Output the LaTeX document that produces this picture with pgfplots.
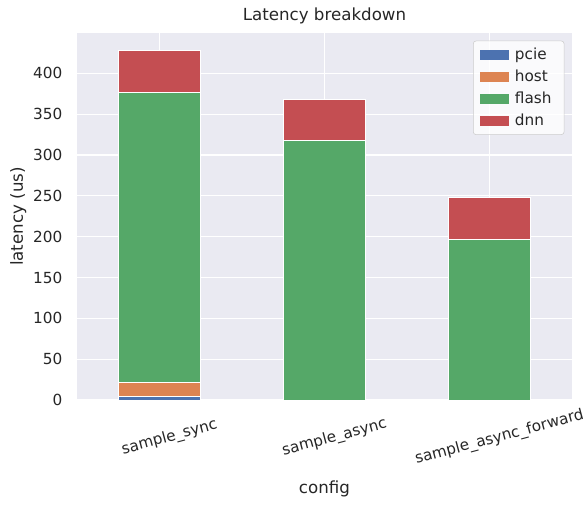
\documentclass[border=0pt]{standalone}
\usepackage{fontspec}
\setmainfont{DejaVu Sans}
\usepackage{pgfplots}
\pgfplotsset{compat=1.18}
\definecolor{bgc}{HTML}{EAEAF2}
\definecolor{c1}{HTML}{4C72B0}
\definecolor{c2}{HTML}{DD8452}
\definecolor{c3}{HTML}{55A868}
\definecolor{c4}{HTML}{C44E52}
\definecolor{txt}{HTML}{262626}
\begin{document}
\begin{tikzpicture}
\path[use as bounding box] (-55.44pt,-78.48pt) rectangle (365.76pt,288pt);
\begin{axis}[
  at={(0,0)}, anchor=south west,
  scale only axis, width=356.4pt, height=264.2pt,
  xmin=-0.5, xmax=2.5, ymin=0, ymax=449.4,
  enlargelimits=false,
  ybar stacked, bar width=0.5,
  axis background/.style={fill=bgc},
  axis line style={draw=none},
  major tick length=0pt,
  grid=major, major grid style={white, line width=0.9pt},
  xtick={0,1,2}, xticklabels={sample\_sync,sample\_async,sample\_async\_forward},
  ytick={0,50,100,150,200,250,300,350,400},
  tick label style={font=\fontsize{11}{13}\selectfont, text=txt},
  /pgf/number format/assume math mode=true,
  xticklabel style={rotate=15, anchor=center, yshift=-28pt},
  yticklabel style={xshift=-7pt},
  xlabel={config}, ylabel={latency (us)},
  label style={font=\fontsize{12}{14}\selectfont, text=txt},
  xlabel style={at={(axis description cs:0.5,0)}, anchor=center, yshift=-64pt},
  ylabel style={yshift=-2pt},
  title={Latency breakdown},
  title style={font=\fontsize{12}{14}\selectfont, text=txt, yshift=-3pt},
  legend style={at={(1,1)}, anchor=north east, xshift=-5.5pt, yshift=-5.5pt,
    fill=white, fill opacity=0.8, text opacity=1, draw=black!20, rounded corners=2pt,
    font=\fontsize{11}{13}\selectfont, text=txt, row sep=2pt, inner xsep=5pt, inner ysep=3pt,
    nodes={inner xsep=4pt}},
  legend cell align=left,
  legend image code/.code={\fill[#1, draw=none, fill opacity=1, sharp corners] (0pt,-3.5pt) rectangle (21pt,3.5pt);},
  every axis plot/.append style={draw=white, line width=0.7pt},
]
\addplot[fill=c1] coordinates {(0,4) (1,0) (2,0)};
\addlegendentry{pcie}
\addplot[fill=c2] coordinates {(0,17) (1,0) (2,0)};
\addlegendentry{host}
\addplot[fill=c3] coordinates {(0,356) (1,318) (2,197)};
\addlegendentry{flash}
\addplot[fill=c4] coordinates {(0,51.5) (1,50) (2,51)};
\addlegendentry{dnn}
\end{axis}
\end{tikzpicture}
\end{document}
